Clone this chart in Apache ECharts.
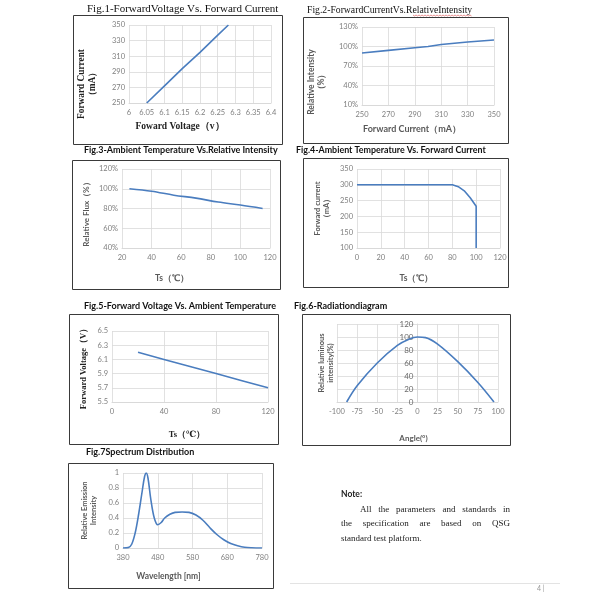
<!DOCTYPE html>
<html><head><meta charset="utf-8">
<script src="https://cdn.jsdelivr.net/npm/echarts@6/dist/echarts.min.js"></script>
<style>html,body{margin:0;padding:0;background:#fff}#c{width:600px;height:600px}</style>
</head><body><div id="c"></div>
<script>
// ---------- data ----------
const fig1Voltage = [6.05, 6.1, 6.15, 6.2, 6.25, 6.28];
const fig1Current = [250, 272, 294, 315, 337, 350];
const fig2Current = [250, 270, 290, 300, 310, 330, 350];
const fig2Intensity = [90, 94, 98, 100, 103, 107, 110];
const fig3Temp = [25, 40, 55, 70, 85, 100, 115];
const fig3Flux = [100, 97.5, 93.5, 90.5, 86.5, 83.5, 80];
const fig4Temp = [0, 80, 85, 90, 95, 100, 100];
const fig4Current = [300, 300, 294, 281, 259, 232, 100];
const fig5Temp = [20, 40, 60, 80, 100, 120];
const fig5Voltage = [6.2, 6.1, 6.0, 5.9, 5.8, 5.7];
const fig6Angle = [-88, -75, -50, -25, -10, 0, 10, 25, 50, 75, 95];
const fig6Intensity = [0, 25, 60, 87, 97, 100, 99, 89, 62, 30, 0];
const fig7Wavelength = [380, 395, 405, 415, 425, 435, 442, 447, 452, 460, 470, 480, 490, 500, 515, 530, 550, 570, 590, 610, 630, 650, 670, 690, 710, 730, 750, 780];
const fig7Emission = [0, 0.005, 0.05, 0.2, 0.45, 0.75, 0.95, 1.0, 0.93, 0.65, 0.4, 0.31, 0.34, 0.4, 0.45, 0.475, 0.48, 0.475, 0.44, 0.37, 0.27, 0.18, 0.11, 0.06, 0.03, 0.01, 0.003, 0];

const titles = [
  'Fig.1-ForwardVoltage Vs. Forward Current',
  'Fig.2-ForwardCurrentVs.RelativeIntensity',
  'Fig.3-Ambient Temperature Vs.Relative Intensity',
  'Fig.4-Ambient Temperature Vs. Forward Current',
  'Fig.5-Forward Voltage Vs. Ambient Temperature',
  'Fig.6-Radiationdiagram',
  'Fig.7Spectrum Distribution'
];
const xNames = ['Foward Voltage（v）', 'Forward Current（mA）', 'Ts（℃）', 'Ts（℃）', 'Ts（℃）', 'Angle(°)', 'Wavelength [nm]'];
const yNames = ['Forward Current\n（mA）', 'Relative Intensity\n（%）', 'Relative Flux（%）', 'Forward current\n（mA）', 'Forward Voltage（V）', 'Relative luminous\nintensity(%)', 'Relative Emission\nIntensity'];
const noteTitle = 'Note:';
const noteLines = ['All the parameters and standards in', 'the specification are based on QSG', 'standard test platform.'];
const pageNo = '4 |';

// ---------- layout ----------
const SERIF = '"Liberation Serif","DejaVu Serif",serif';
const SANS = 'Lato,"Open Sans","Liberation Sans",sans-serif';
const LINE = '#4a7dbf';
const GRIDC = '#d9d9d9';
const LBL = '#7f7f7f';

const grids = [
  {left:129, top:25, width:142, height:78},
  {left:362, top:27, width:132, height:78},
  {left:122, top:169, width:148, height:79},
  {left:357, top:169, width:143, height:79},
  {left:112, top:331, width:156, height:71},
  {left:337, top:324, width:161, height:78},
  {left:123, top:473, width:139, height:75}
];
const boxes = [
  [73,15,282,144],[303,17,508,143],[72,160,280,289],[303,158,508,287],
  [69,314,278,444],[302,314,510,445],[68,463,273,588]
];
const titlePos = [[87,4,SERIF,11,'normal'],[307,5,SERIF,9.7,'normal'],[84,146,SANS,9,'bold'],[296,146,SANS,8.9,'bold'],[84,302,SANS,9,'bold'],[294,302,SANS,9,'bold'],[86,448,SANS,9,'bold']];
const xCfg = [
  {min:6, max:6.4, interval:0.05},
  {min:250, max:350, interval:20},
  {min:20, max:120, interval:20},
  {min:0, max:120, interval:20},
  {min:0, max:120, interval:40},
  {min:-100, max:100, interval:25},
  {min:380, max:780, interval:100}
];
const yCfg = [
  {min:250, max:350, interval:20},
  {min:10, max:130, interval:30, fmt:v=>v+'%'},
  {min:40, max:120, interval:20, fmt:v=>v+'%'},
  {min:100, max:350, interval:50},
  {min:5.5, max:6.5, interval:0.2},
  {min:0, max:120, interval:20},
  {min:0, max:1, interval:0.2}
];
const xGap = [19, 20, 26, 26, 28, 32, 24];
const yGap = [31, 36, 31, 26, 23, 82, 25];
const yOffset = [0, 0, 0, 0, 0, -80.5, 0];
const xNameShift = [20, 16, 24, 12, 3, 4, 24];   // leftward shift of axis title
const yNameShift = [20, 16, 4, 0, 0, 0, 0];      // downward shift of axis title
const xNameSize = [9.5, 9, 8.5, 8.5, 8.5, 8, 8.5];
const yNameSize = [9.3, 8.5, 8, 7.5, 8.5, 7.5, 7.5];
const nameFont = [SERIF, SANS, SANS, SANS, SERIF, SANS, SANS];
const nameColor = ['#222', '#595959', '#595959', '#595959', '#222', '#595959', '#595959'];

const seriesData = [
  [fig1Voltage, fig1Current, false],
  [fig2Current, fig2Intensity, false],
  [fig3Temp, fig3Flux, true],
  [fig4Temp, fig4Current, false],
  [fig5Temp, fig5Voltage, false],
  [fig6Angle, fig6Intensity, true],
  [fig7Wavelength, fig7Emission, true]
];

const xAxis = [], yAxis = [], series = [], title = [];
grids.forEach((g, i) => {
  xAxis.push({
    type:'value', gridIndex:i, min:xCfg[i].min, max:xCfg[i].max, interval:xCfg[i].interval,
    axisLine:{show:true, lineStyle:{color:GRIDC}}, axisTick:{show:false},
    splitLine:{show:true, lineStyle:{color:GRIDC, width:0.8}},
    axisLabel:{color:LBL, fontSize:7.5, fontFamily:SANS, margin:6, showMinLabel:true, showMaxLabel:true},
    name:xNames[i], nameLocation:'middle', nameGap:xGap[i],
    nameTextStyle:{fontFamily:nameFont[i], fontWeight:'bold', fontSize:xNameSize[i], color:nameColor[i],
      padding:[0, 2 * xNameShift[i], 0, 0]}
  });
  const yc = yCfg[i];
  yAxis.push({
    type:'value', gridIndex:i, min:yc.min, max:yc.max, interval:yc.interval, offset:yOffset[i],
    axisLine:{show:i===5, onZero:false, lineStyle:{color:GRIDC}}, axisTick:{show:false},
    splitLine:{show:true, lineStyle:{color:GRIDC, width:0.8}},
    axisLabel:{color:i===5?'#6a6a6a':LBL, fontSize:i===5?8:7.5, fontFamily:SANS, margin:4, formatter:yc.fmt, showMinLabel:true, showMaxLabel:true},
    name:yNames[i], nameLocation:'middle', nameGap:yGap[i], nameRotate:90,
    nameTextStyle:{fontFamily:nameFont[i], fontWeight:'bold', fontSize:yNameSize[i], color:nameColor[i], lineHeight:yNameSize[i] + 1.5,
      padding:[0, 2 * yNameShift[i], 0, 0]}
  });
  const [xs, ys, smooth] = seriesData[i];
  series.push({
    type:'line', xAxisIndex:i, yAxisIndex:i, data:xs.map((x, k) => [x, ys[k]]),
    showSymbol:false, smooth:smooth ? 0.35 : false, lineStyle:{color:LINE, width:1.6}, silent:true, animation:false
  });
  const tp = titlePos[i];
  title.push({text:titles[i], left:tp[0], top:tp[1], padding:0,
    textStyle:{fontFamily:tp[2], fontSize:tp[3], fontWeight:tp[4], color:'#111'}});
});

// graphic: boxes, note, footer
const graphic = boxes.map(b => ({type:'rect', silent:true,
  shape:{x:b[0]+0.5, y:b[1]+0.5, width:b[2]-b[0], height:b[3]-b[1]},
  style:{fill:null, stroke:'#3a3a3a', lineWidth:1}}));

// red spell-check squiggle under "RelativeIntensity" in fig.2 title
(function(){
  const pts = [];
  for (let x = 413, k = 0; x <= 472; x += 1.5, k++) pts.push([x, 15 + (k % 2 ? 1 : 0)]);
  graphic.push({type:'polyline', silent:true, shape:{points:pts}, style:{stroke:'#e06060', lineWidth:0.7, fill:null}});
})();

graphic.push({type:'text', silent:true, x:341, y:494, style:{text:noteTitle, font:'bold 8.5px ' + SANS, fill:'#222', verticalAlign:'middle'}});

// justify lines
const cv = document.createElement('canvas').getContext('2d');
const noteFont = '9px ' + SERIF;
cv.font = noteFont;
function addLine(text, x0, x1, y, justify) {
  const words = text.split(' ');
  if (!justify || words.length < 2) {
    graphic.push({type:'text', silent:true, x:x0, y:y, style:{text:text, font:noteFont, fill:'#222', verticalAlign:'middle'}});
    return;
  }
  const widths = words.map(w => cv.measureText(w).width);
  const total = widths.reduce((a, b) => a + b, 0);
  const gap = (x1 - x0 - total) / (words.length - 1);
  let x = x0;
  words.forEach((w, k) => {
    graphic.push({type:'text', silent:true, x:x, y:y, style:{text:w, font:noteFont, fill:'#222', verticalAlign:'middle'}});
    x += widths[k] + gap;
  });
}
addLine(noteLines[0], 360, 510, 510, true);
addLine(noteLines[1], 341, 510, 524, true);
addLine(noteLines[2], 341, 510, 539, false);

graphic.push({type:'line', silent:true, shape:{x1:290, y1:583.5, x2:560, y2:583.5}, style:{stroke:'#e3e3e3', lineWidth:1}});
graphic.push({type:'text', silent:true, x:537, y:589, style:{text:pageNo, font:'7px ' + SANS, fill:'#999', verticalAlign:'middle'}});

const chart = echarts.init(document.getElementById('c'), null, {renderer:'canvas'});
chart.setOption({
  animation:false,
  backgroundColor:'#fff',
  title:title,
  grid:grids.map(g => Object.assign({containLabel:false}, g)),
  xAxis:xAxis, yAxis:yAxis, series:series, graphic:graphic
});
</script>
</body></html>
